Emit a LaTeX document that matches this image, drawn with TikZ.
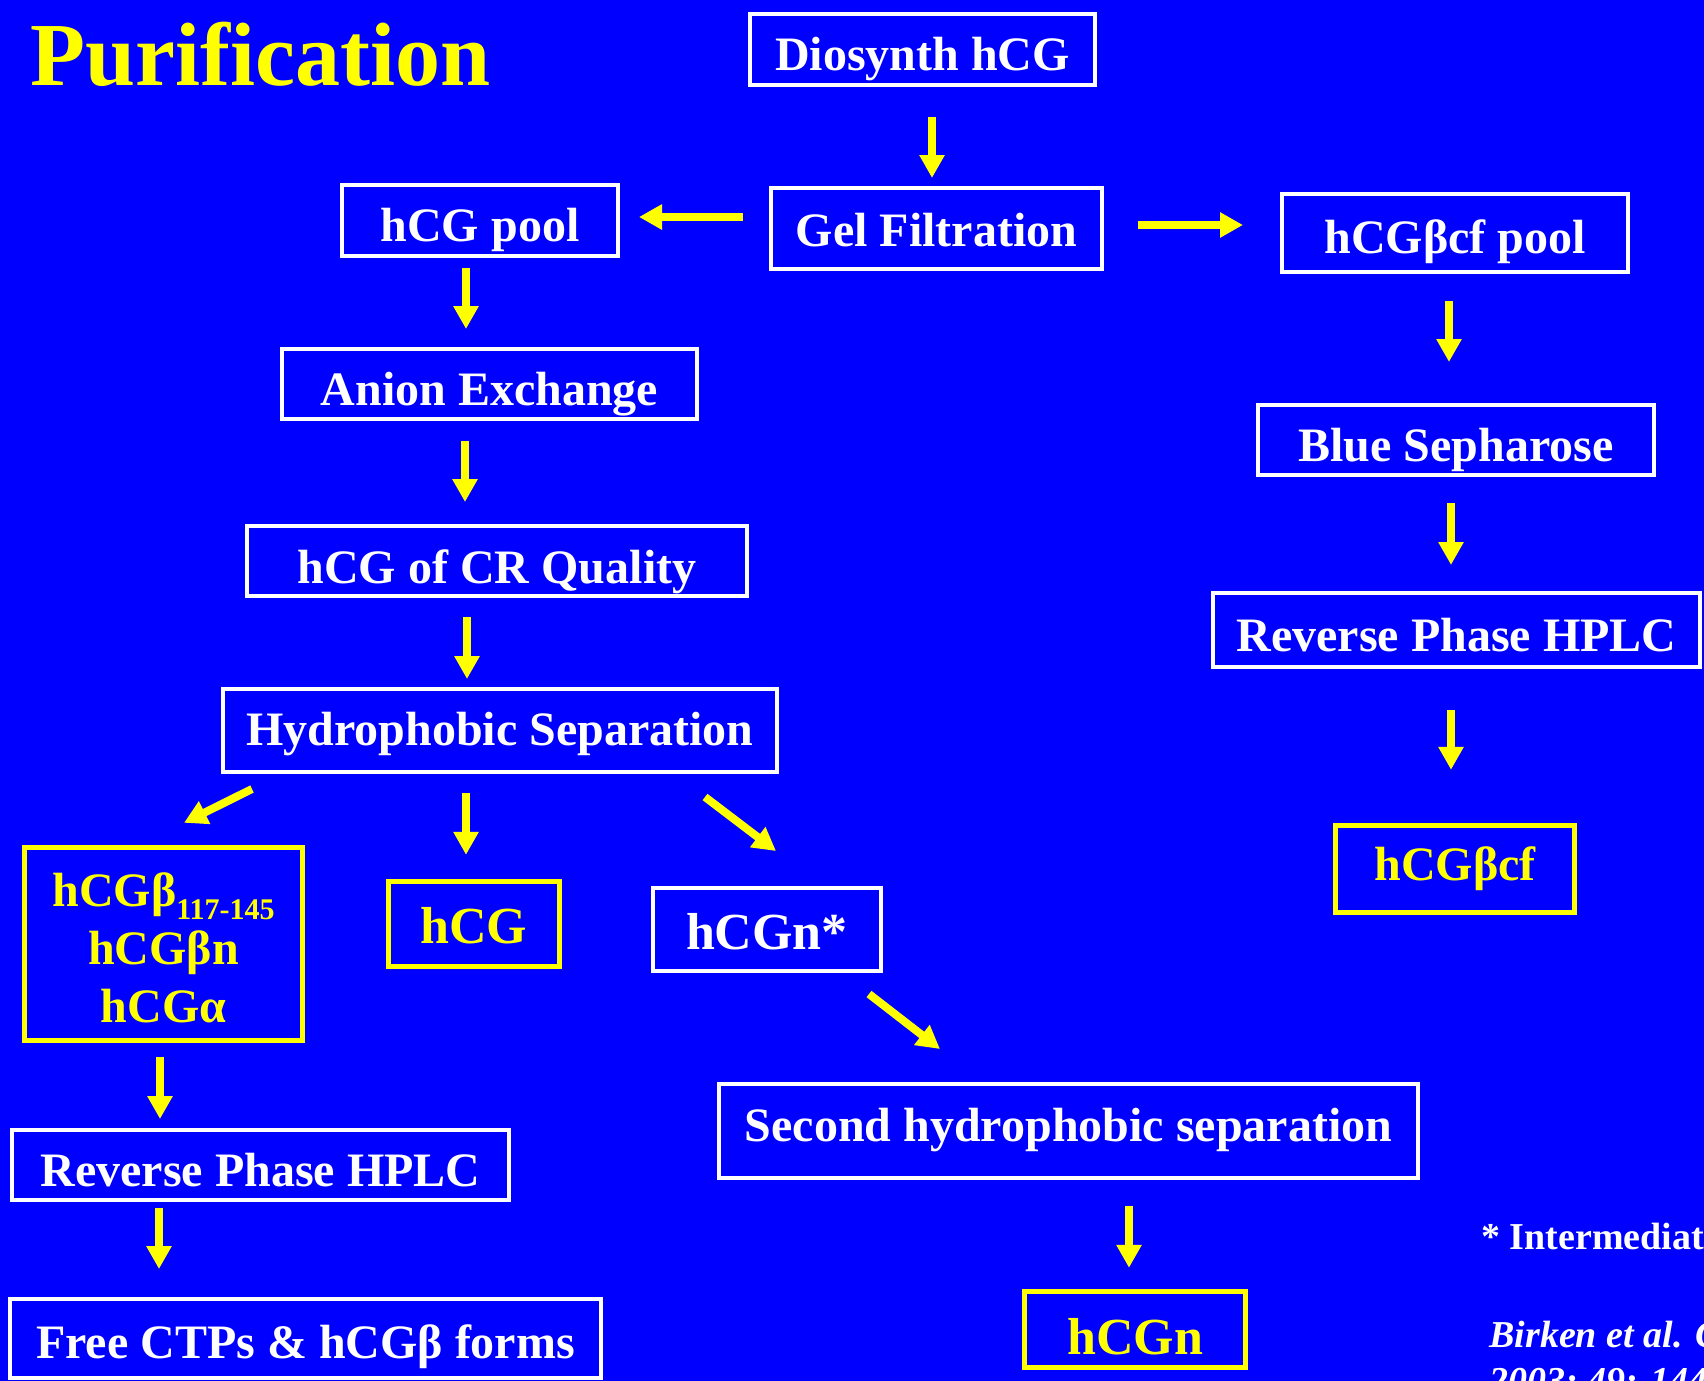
\documentclass[tikz,border=0pt]{standalone}
\usepackage{fontspec}
\setmainfont{Liberation Serif}
\usetikzlibrary{arrows.meta}
\definecolor{slideblue}{RGB}{0,0,255}
\definecolor{slideyellow}{RGB}{255,255,0}
\tikzset{
  wbox/.style={draw=white, line width=2.2pt, inner sep=0pt, text=white, text depth=0pt,
    font=\fontsize{24}{29}\selectfont\bfseries},
  ybox/.style={draw=slideyellow, line width=2.4pt, inner sep=0pt, text=slideyellow, text depth=0pt,
    font=\fontsize{26}{29}\selectfont\bfseries, align=center},
  arr/.style={draw=slideyellow, line width=4pt, -{Triangle[width=12pt,length=11.5pt]}}
}
\begin{document}
\begin{tikzpicture}[x=0.5pt,y=-0.5pt]
    \useasboundingbox (0,0) rectangle (1704,1381);
    \clip (0,0) rectangle (1704,1381);
    \fill[slideblue] (0,0) rectangle (1704,1381);

    % Titel
    \node[anchor=base west, inner sep=0pt, text=slideyellow,
          font=\fontsize{45}{50}\selectfont\bfseries] (title) at (30,85) {Purification};

    % Kaesten oben
    \node[wbox, text height=21.4pt, minimum width=172.3pt, minimum height=35.3pt] (dio) at (922.5,49.5) {Diosynth hCG};
    \node[wbox, text height=17.5pt, minimum width=165.3pt, minimum height=40.3pt] (gel) at (936.5,228.5) {Gel Filtration};
    \node[wbox, text height=21.4pt, minimum width=137.8pt, minimum height=35.3pt] (pool) at (480,220.5) {hCG pool};
    \node[wbox, text height=20.9pt, minimum width=172.8pt, minimum height=38.8pt] (cfpool) at (1455,233) {hCGβcf pool};

    % linker Zweig
    \node[wbox, text height=21.2pt, minimum width=207.3pt, minimum height=34.8pt] (anion) at (489.5,384) {Anion Exchange};
    \node[wbox, text height=22.1pt, minimum width=249.8pt, minimum height=34.8pt] (crq) at (497,561) {hCG of CR Quality};
    \node[wbox, text height=14.7pt, minimum width=276.8pt, minimum height=41.3pt] (hydro) at (500,730.5) {Hydrophobic Separation};
    \node[ybox, text depth=, text height=, font=\fontsize{24}{29}\selectfont\bfseries,
          minimum width=139.3pt, minimum height=96.8pt] (beta) at (163.5,944)
        {\rule{0pt}{21pt}hCGβ\raisebox{-6.5pt}{\fontsize{15}{15}\selectfont 117-145}\\hCGβn\\hCGα};
    \node[ybox, text height=19.2pt, minimum width=85.8pt, minimum height=42.8pt] (hcg) at (474,924) {hCG};
    \node[wbox, text height=20.2pt, font=\fontsize{26}{29}\selectfont\bfseries,
          minimum width=113.8pt, minimum height=41.3pt] (hcgnst) at (767,929.5) {hCGn*};
    \node[wbox, text height=10.5pt, minimum width=349.3pt, minimum height=46.8pt] (second) at (1068.5,1131) {Second hydrophobic separation};
    \node[ybox, text height=25.2pt, minimum width=110.8pt, minimum height=38.3pt] (hcgn) at (1135,1329.5) {hCGn};
    \node[wbox, text height=21.3pt, minimum width=248.3pt, minimum height=34.8pt] (rpleft) at (260.5,1165) {Reverse Phase HPLC};
    \node[wbox, text height=20.4pt, minimum width=295.3pt, minimum height=39.3pt] (free) at (305.5,1338.5) {Free CTPs \& hCGβ forms};

    % rechter Zweig
    \node[wbox, text height=21.2pt, minimum width=197.8pt, minimum height=34.8pt] (blue) at (1456,440) {Blue Sepharose};
    \node[wbox, text height=21.4pt, minimum width=243.3pt, minimum height=36.8pt] (rpright) at (1456.5,630) {Reverse Phase HPLC};
    \node[ybox, text height=11.9pt, font=\fontsize{24}{29}\selectfont\bfseries,
          minimum width=119.8pt, minimum height=43.8pt] (cf) at (1455,869) {hCGβcf};

    % Pfeile
    \draw[arr] ([shift={(9.5,30)}]dio.south) -- ([shift={(-4.5,-8)}]gel.north);
    \draw[arr] ([shift={(-26,-11.5)}]gel.west) -- ([shift={(19,-3.5)}]pool.east);
    \draw[arr] ([shift={(34,-3.5)}]gel.east) -- ([shift={(-37,-8)}]cfpool.west);
    \draw[arr] ([shift={(-14,10)}]pool.south) -- ([shift={(-23.5,-18)}]anion.north);
    \draw[arr] ([shift={(-24.5,20)}]anion.south) -- ([shift={(-32,-22)}]crq.north);
    \draw[arr] ([shift={(-30,19)}]crq.south) -- ([shift={(-33,-8)}]hydro.north);
    \draw[arr] ([shift={(31,15)}]hydro.south west) -- ([shift={(20.5,-22)}]beta.north);
    \draw[arr] ([shift={(-34,19)}]hydro.south) -- ([shift={(-8,-24)}]hcg.north);
    \draw[arr] ([shift={(-74,23)}]hydro.south east) -- ([shift={(9,-35)}]hcgnst.north);
    \draw[arr] ([shift={(102,21)}]hcgnst.south) -- ([shift={(223,-33)}]second.north west);
    \draw[arr] ([shift={(60.5,26)}]second.south) -- ([shift={(-6,-21)}]hcgn.north);
    \draw[arr] ([shift={(-3.5,14)}]beta.south) -- ([shift={(150,-9)}]rpleft.north west);
    \draw[arr] ([shift={(149,6)}]rpleft.south west) -- ([shift={(151,-28)}]free.north west);
    \draw[arr] ([shift={(-6,27)}]cfpool.south) -- ([shift={(-7,-41)}]blue.north);
    \draw[arr] ([shift={(-5,26)}]blue.south) -- ([shift={(-5.5,-26)}]rpright.north);
    \draw[arr] ([shift={(-5.5,41)}]rpright.south) -- ([shift={(-4,-53)}]cf.north);

    % Fussnoten
    \node[anchor=base west, inner sep=0pt, text=white,
          font=\fontsize{19}{22}\selectfont\bfseries] (note) at (1481,1249) {* Intermediate};
    \node[anchor=base west, inner sep=0pt, text=white,
          font=\fontsize{19}{22}\selectfont\bfseries\itshape] (ref1) at (1489,1347) {Birken et al. Clin};
    \node[anchor=base west, inner sep=0pt, text=white,
          font=\fontsize{19}{22}\selectfont\bfseries\itshape] (ref2) at (1489,1393) {2003; 49: 144};
\end{tikzpicture}
\end{document}
